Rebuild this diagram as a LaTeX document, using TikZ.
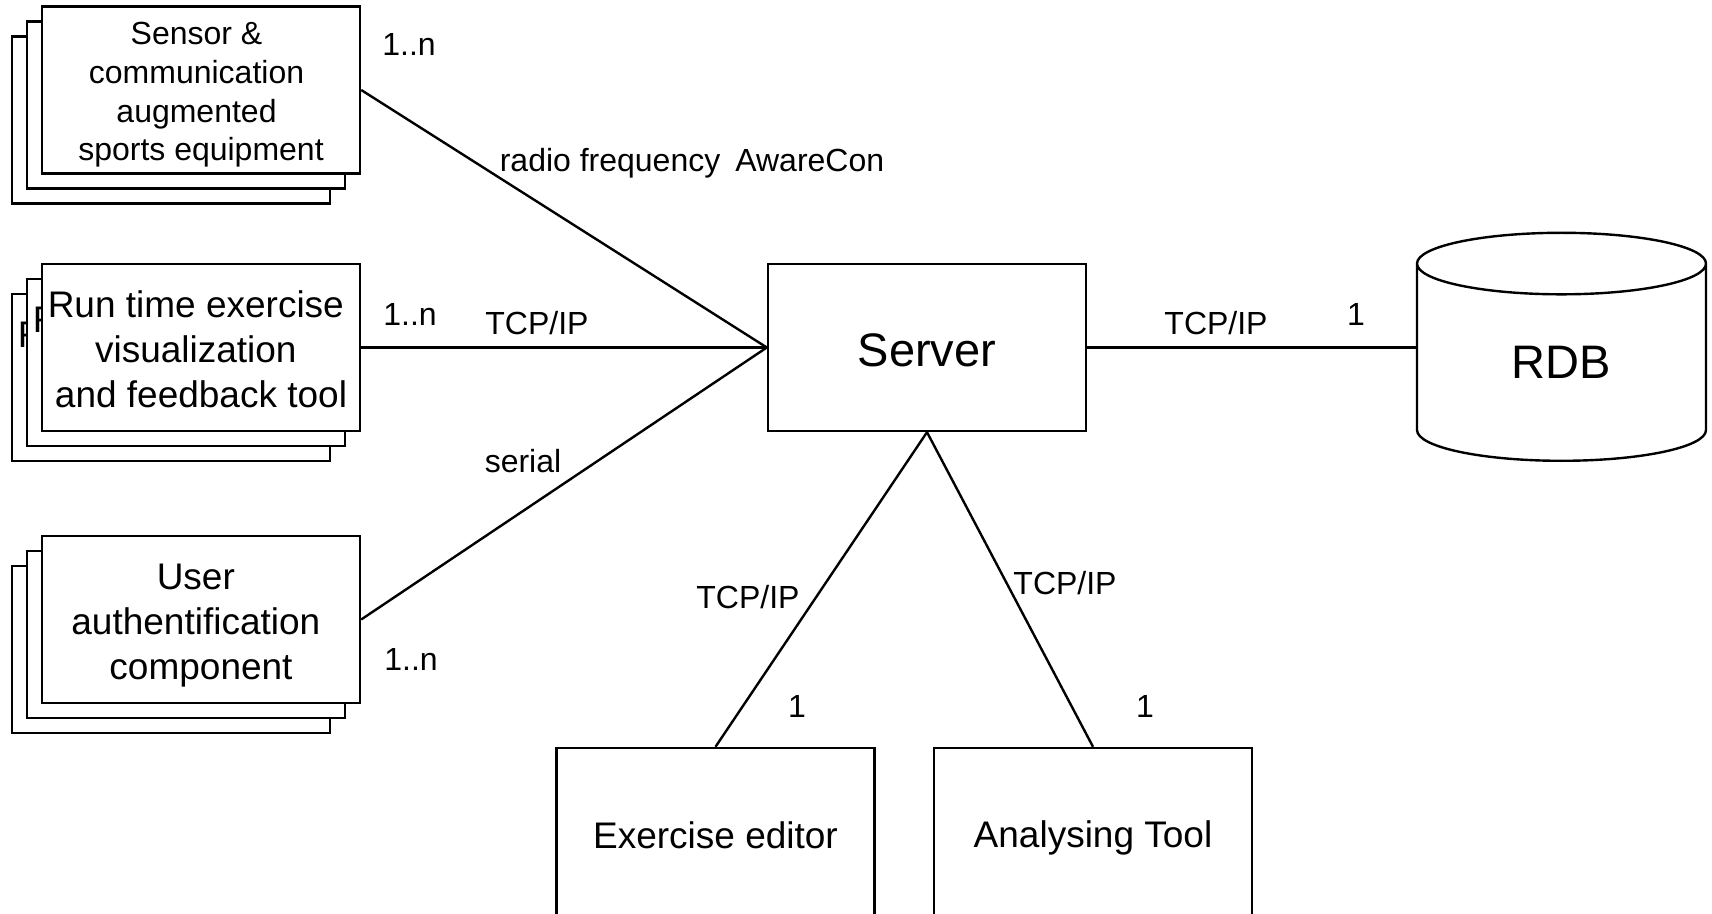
\documentclass[tikz,border=0pt]{standalone}
\usepackage{fontspec}
\setmainfont{Liberation Sans}
\usetikzlibrary{shapes.geometric}

% line strut (text sits in its line like in the original editor) and trailing space
\newcommand{\dstrut}[1]{\rule[-0.16\dimexpr#1\relax]{0pt}{#1}}
\newcommand{\tsp}{\kern0.28em}
\newcommand{\runtimetext}{\dstrut{22.4pt}Run time exercise\tsp\\visualization\tsp\\and feedback tool}

\begin{document}
\begin{tikzpicture}[x=0.5pt, y=-0.5pt, line width=1.2pt,
    comp/.style={draw, fill=white, minimum width=159pt, minimum height=83.5pt, align=center, inner sep=0pt},
    boxline/.style={execute at begin node={\dstrut{#1}}, execute at end node={\dstrut{#1}}},
    smalltext/.style={font=\fontsize{16}{19.3}\selectfont, boxline=19.3pt},
    bigtext/.style={font=\fontsize{18.5}{22.4}\selectfont, boxline=22.4pt},
    hugetext/.style={font=\fontsize{23.5}{28}\selectfont, boxline=28pt},
    lbl/.style={font=\fontsize{16}{19}\selectfont, inner sep=0pt, text height=11.5pt, text depth=0pt}]

    % Page has the size of the picture
    \useasboundingbox (0,0) rectangle (1712,914);

    % Stacked client components (back copies first)
    \foreach \d/\n in {30/c,15/b} {
        \node[comp] (sensor\n) at ({201-\d},{90+\d}) {};
        \node[comp, bigtext] (runtime\n) at ({201-\d},{347.5+\d}) {\runtimetext};
        \node[comp] (auth\n) at ({201-\d},{619.5+\d}) {};
    }
    \node[comp, smalltext] (sensor) at (201,90) {\dstrut{19.3pt}Sensor \&\tsp\\communication\tsp\\augmented\tsp\\sports equipment};
    \node[comp, bigtext] (runtime) at (201,347.5) {\runtimetext};
    \node[comp, bigtext] (auth) at (201,619.5) {\dstrut{22.4pt}User\tsp\\authentification\tsp\\component};

    % Server, database and tools
    \node[comp, hugetext] (server) at (927,347.5) {Server};
    \node[draw, cylinder, shape border rotate=90, aspect=0.62, minimum width=144.5pt, minimum height=114pt,
        inner sep=0pt, font=\fontsize{23.5}{28}\selectfont, anchor=south] (rdb) at (1561.5,462) {RDB};
    \node[comp, bigtext, minimum height=85pt] (editor) at (715.5,833) {Exercise editor};
    \node[comp, bigtext, minimum height=85pt] (analyser) at (1093,833) {Analysing Tool};

    % Connections
    \draw (sensor.east) -- (server.west);
    \draw (runtime.east) -- (server.west);
    \draw (auth.east) -- (server.west);
    \draw (server.east) -- (server.east -| rdb.west);
    \draw (server.south) -- (editor.north);
    \draw (server.south) -- (analyser.north);

    % Protocols and multiplicities
    \node[lbl] (multsensor) at (409,44) {1..n};
    \node[lbl] (radio) at (692,160) {radio frequency\hspace{7.5pt}AwareCon};
    \node[lbl] (multruntime) at (410,314) {1..n};
    \node[lbl] (tcpruntime) at (537,323) {TCP/IP};
    \node[lbl] (serial) at (523,461) {serial};
    \node[lbl] (multauth) at (411,659) {1..n};
    \node[lbl] (tcprdb) at (1216,323) {TCP/IP};
    \node[lbl] (multrdb) at (1356,314) {1};
    \node[lbl] (tcpeditor) at (748,597) {TCP/IP};
    \node[lbl] (multeditor) at (797,706) {1};
    \node[lbl] (tcpanalyser) at (1065,583) {TCP/IP};
    \node[lbl] (multanalyser) at (1145,706) {1};

\end{tikzpicture}
\end{document}
